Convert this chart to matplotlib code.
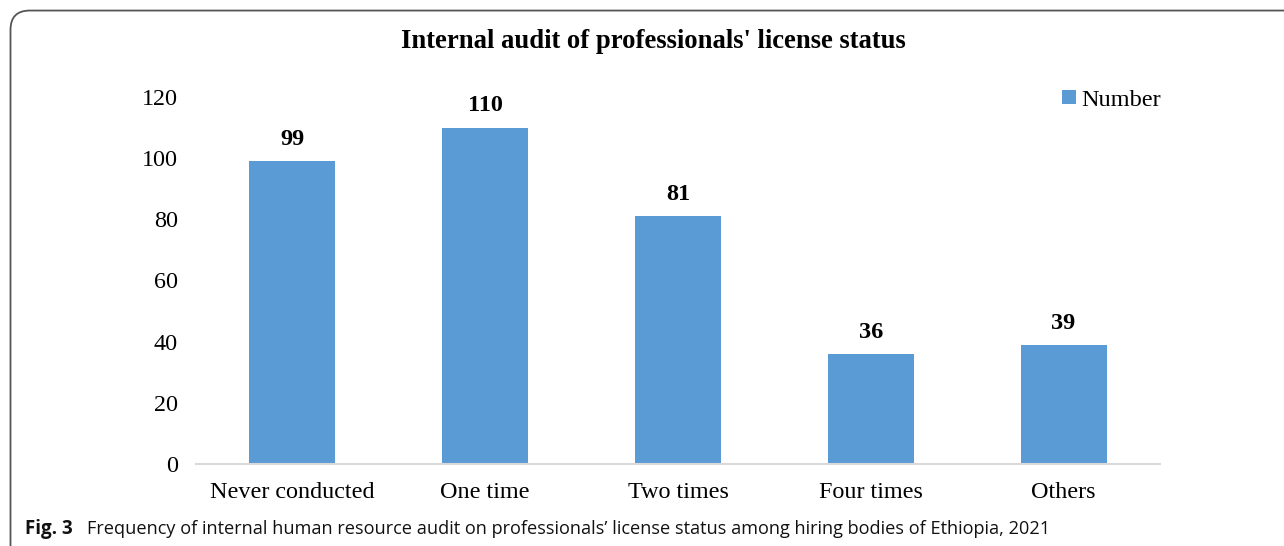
import matplotlib.pyplot as plt
from matplotlib.patches import FancyBboxPatch

# chart data
categories = ["Never conducted", "One time", "Two times", "Four times", "Others"]
counts = [99, 110, 81, 36, 39]
yticks = [0, 20, 40, 60, 80, 100, 120]

bar_color = "#5B9BD5"
serif = "Liberation Serif"

fig = plt.figure(figsize=(12.84, 5.46), dpi=100)
ax = fig.add_axes([196 / 1284, 82 / 546, 964 / 1284, 367 / 546])

bars = ax.bar(categories, counts, width=0.446, color=bar_color, label="Number")
for rect, v in zip(bars, counts):
    ax.annotate(str(v), (rect.get_x() + rect.get_width() / 2, v),
                xytext=(0, 8), textcoords="offset points",
                ha="center", va="bottom", fontsize=17.5, fontweight="bold",
                family=serif)

ax.set_xlim(-0.5, len(categories) - 0.5)
ax.set_ylim(0, 120)
ax.set_yticks(yticks)
for s in ["top", "right", "left"]:
    ax.spines[s].set_visible(False)
ax.spines["bottom"].set_color("#D9D9D9")
ax.spines["bottom"].set_linewidth(1.5)
ax.tick_params(length=0, labelsize=17.4)
ax.tick_params(axis="y", pad=13)
ax.tick_params(axis="x", pad=13)
for lab in ax.get_xticklabels() + ax.get_yticklabels():
    lab.set_family(serif)

leg = ax.legend(loc="upper right", bbox_to_anchor=(1.024, 1.08), frameon=False,
                prop={"family": serif, "size": 17.5}, handlelength=0.55,
                handleheight=0.55, handletextpad=0.25)

fig.text(653 / 1284, 1 - 42 / 546, "Internal audit of professionals' license status",
         ha="center", va="center", fontsize=19.2, fontweight="bold", family=serif)

# caption below the chart
fig.text(25 / 1284, 1 - 529 / 546, "Fig. 3", ha="left", va="center",
         fontsize=13.5, fontweight="bold", family="Open Sans", color="#111111")
fig.text(87 / 1284, 1 - 529 / 546,
         "Frequency of internal human resource audit on professionals\u2019 license status among hiring bodies of Ethiopia, 2021",
         ha="left", va="center", fontsize=13.1, family="Open Sans", color="#111111")

# rounded frame
frame = FancyBboxPatch((10.5 / 1284, -20 / 546), 1300 / 1284, (536 + 20) / 546 - 0.001,
                       boxstyle="round,pad=0,rounding_size=0.015",
                       transform=fig.transFigure, fill=False,
                       edgecolor="#555555", linewidth=1.3, mutation_aspect=1284 / 546)
fig.patches.append(frame)

fig.savefig("out.png", dpi=100)
